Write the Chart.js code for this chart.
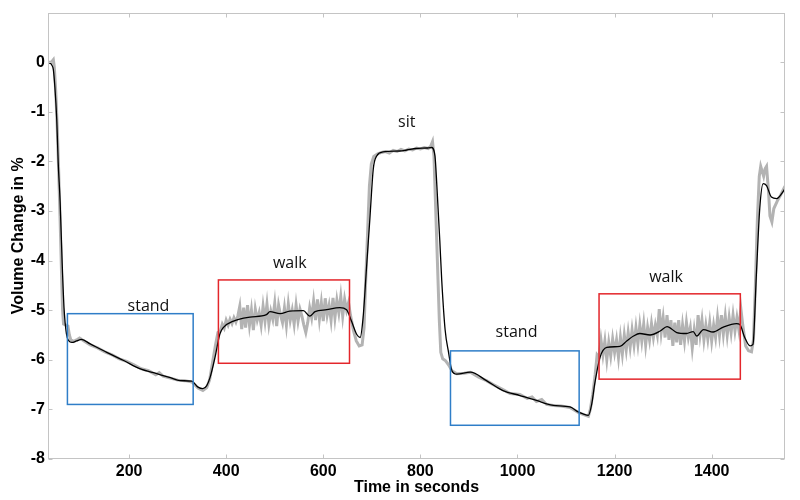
<!DOCTYPE html>
<html>
<head>
<meta charset="utf-8">
<script src="https://cdn.jsdelivr.net/npm/chart.js@4.4.1/dist/chart.umd.min.js"></script>
<style>
  html, body { margin: 0; padding: 0; background: #fff; }
  #wrap { width: 800px; height: 500px; }
</style>
</head>
<body>
<div id="wrap"><canvas id="chart" width="800" height="500"></canvas></div>
<script>
// smoothed volume curve (black)
const smoothTime = [
  34, 37, 41, 44, 47, 51, 54, 58, 62, 66,
  71, 76, 82, 92, 102, 120, 154, 190, 222, 257,
  285, 305, 329, 342, 352, 360, 367, 377, 387, 394,
  415, 449, 483, 490, 511, 531, 559, 572, 583, 607,
  634, 648, 658, 669, 676, 682, 689, 696, 703, 710,
  723, 758, 772, 792, 813, 823, 830, 834, 840, 844,
  851, 858, 865, 875, 903, 936, 970, 1005, 1039, 1060,
  1074, 1108, 1125, 1135, 1146, 1153, 1159, 1170, 1184, 1211,
  1225, 1239, 1252, 1273, 1294, 1308, 1328, 1348, 1362, 1369,
  1383, 1403, 1424, 1451, 1458, 1468, 1479, 1485, 1492, 1499,
  1506, 1513, 1523, 1534, 1547, 1551
]
const smoothVolume = [
  0, -0.02, -0.06, -0.15, -0.48, -1.15, -2.02, -2.82, -4.0, -4.95,
  -5.48, -5.62, -5.65, -5.62, -5.59, -5.68, -5.85, -6.02, -6.18, -6.28,
  -6.36, -6.42, -6.43, -6.55, -6.58, -6.52, -6.35, -5.95, -5.48, -5.35,
  -5.22, -5.14, -5.09, -5.03, -5.07, -5.02, -5.01, -5.12, -5.03, -4.99,
  -4.95, -4.99, -5.22, -5.49, -5.55, -5.15, -4.15, -3.15, -2.15, -1.89,
  -1.81, -1.79, -1.77, -1.74, -1.73, -1.72, -1.89, -2.5, -3.6, -4.4,
  -5.4, -5.85, -6.22, -6.29, -6.25, -6.42, -6.62, -6.72, -6.82, -6.89,
  -6.92, -6.95, -7.05, -7.09, -7.12, -6.89, -6.49, -5.95, -5.75, -5.73,
  -5.62, -5.52, -5.47, -5.5, -5.42, -5.33, -5.45, -5.47, -5.43, -5.52,
  -5.39, -5.44, -5.34, -5.27, -5.29, -5.55, -5.72, -5.69, -4.29, -2.95,
  -2.45, -2.49, -2.72, -2.75, -2.61, -2.55
]

// raw measurement (grey)
const rawTime = [
  34, 40, 44, 46, 49, 52, 55, 58, 61, 63,
  65, 70, 74, 77, 80, 86, 92, 98, 104, 112,
  120, 135, 150, 165, 180, 195, 210, 225, 240, 255,
  262, 270, 285, 300, 315, 330, 342, 352, 360, 366,
  372, 378, 383,
  // walk 1
  388, 392, 396, 400, 404, 408, 412, 416, 420, 424,
  428, 432, 436, 440, 444, 448, 452, 456, 460, 464,
  468, 472, 476, 480, 484, 488, 492, 496, 500, 504,
  508, 512, 516, 520, 524, 528, 532, 536, 540, 544,
  548, 552, 556, 560, 564, 568, 572, 576, 580, 584,
  588, 592, 596, 600, 604, 608, 612, 616, 620, 624,
  628, 632, 636, 640, 644, 648, 652,
  // sit, stand 2
  656, 662, 668, 674, 680, 684, 687, 691, 695, 699,
  704, 712, 720, 728, 736, 744, 752, 760, 768, 776,
  784, 792, 800, 808, 816, 821, 825, 828, 831, 835,
  839, 842, 846, 852, 858, 865, 875, 890, 903, 920,
  936, 950, 970, 985, 1005, 1020, 1030, 1039, 1050, 1060,
  1074, 1090, 1108, 1125, 1135, 1146, 1150, 1155, 1160, 1164,
  // walk 2
  1168, 1172, 1176, 1180, 1184, 1188, 1192, 1196, 1200, 1204,
  1208, 1212, 1216, 1220, 1224, 1228, 1232, 1236, 1240, 1244,
  1248, 1252, 1256, 1260, 1264, 1268, 1272, 1276, 1280, 1284,
  1288, 1292, 1296, 1300, 1304, 1308, 1312, 1316, 1320, 1324,
  1328, 1332, 1336, 1340, 1344, 1348, 1352, 1356, 1360, 1364,
  1368, 1372, 1376, 1380, 1384, 1388, 1392, 1396, 1400, 1404,
  1408, 1412, 1416, 1420, 1424, 1428, 1432, 1436, 1440, 1444,
  1448, 1452, 1456, 1460, 1464,
  // end
  1470, 1476, 1482, 1486, 1490, 1494, 1498, 1501, 1504, 1507,
  1510, 1513, 1517, 1520, 1524, 1528, 1535, 1542, 1551
]
const rawVolume = [
  0.0, 0.0, 0.05, -0.1, -0.6, -1.3, -2.2, -3.2, -4.3, -5.0,
  -5.28, -5.3, -5.32, -5.5, -5.6, -5.63, -5.6, -5.56, -5.6, -5.65,
  -5.7, -5.76, -5.84, -5.9, -5.98, -6.03, -6.1, -6.18, -6.22, -6.3,
  -6.26, -6.33, -6.37, -6.41, -6.42, -6.45, -6.57, -6.62, -6.56, -6.4,
  -6.05, -5.7, -5.45,
  // walk 1
  -5.42, -5.28, -5.36, -5.2, -5.3, -5.18, -5.27, -5.15, -5.24, -5.12,
  -4.92, -5.38, -4.95, -5.35, -4.9, -5.3, -5.0, -5.4, -4.98, -5.2,
  -5.05, -5.3, -4.92, -5.22, -4.88, -5.28, -5.02, -5.18, -4.86, -5.32,
  -4.9, -5.1, -5.25, -4.95, -5.3, -4.88, -5.2, -5.0, -5.28, -4.9,
  -5.22, -4.98, -5.12, -5.3, -5.45, -5.25, -4.95, -5.15, -4.82, -5.2,
  -4.78, -5.18, -4.85, -5.22, -4.76, -5.1, -4.9, -5.2, -4.75, -5.15,
  -4.8, -5.05, -4.72, -5.12, -4.78, -5.0, -4.85,
  // sit, stand 2
  -5.1, -5.4, -5.62, -5.72, -5.7, -5.35, -4.5, -3.5, -2.5, -2.05,
  -1.9, -1.85, -1.82, -1.8, -1.83, -1.78, -1.8, -1.76, -1.79, -1.75,
  -1.77, -1.73, -1.75, -1.72, -1.74, -1.7, -1.6, -1.9, -2.8, -4.0,
  -5.2, -5.85, -5.98, -6.02, -6.1, -6.22, -6.28, -6.27, -6.25, -6.35,
  -6.42, -6.5, -6.6, -6.68, -6.7, -6.78, -6.75, -6.84, -6.8, -6.9,
  -6.92, -6.93, -6.96, -7.06, -7.1, -7.14, -7.0, -6.7, -6.3, -5.9,
  // walk 2
  -5.95, -5.6, -5.9, -5.62, -6.0, -5.65, -5.92, -5.58, -5.85, -5.6,
  -5.95, -5.55, -5.88, -5.5, -5.8, -5.45, -5.75, -5.4, -5.7, -5.35,
  -5.68, -5.3, -5.62, -5.28, -5.7, -5.35, -5.6, -5.27, -5.55, -5.3,
  -5.5, -4.98, -5.45, -5.15, -5.55, -5.1, -5.6, -5.2, -5.72, -5.25,
  -5.65, -5.2, -5.7, -5.3, -5.62, -5.25, -5.55, -5.35, -5.76, -5.4,
  -5.7, -5.1, -5.5, -5.2, -5.6, -5.3, -5.58, -5.25, -5.62, -5.3,
  -5.55, -5.15, -5.5, -5.1, -5.48, -5.12, -5.5, -5.15, -5.45, -5.1,
  -5.42, -5.15, -5.4, -4.96, -5.3,
  // end
  -5.72, -5.82, -5.84, -5.6, -4.5, -3.2, -2.3, -2.1, -2.2, -2.3,
  -2.15, -2.1, -2.6, -3.1, -3.22, -2.95, -2.8, -2.68, -2.5
]

// activity boxes (in data units)
const boxActivity = ['stand', 'walk', 'stand', 'walk']
const boxStart = [73, 384, 862, 1168]
const boxEnd = [332, 654, 1127, 1459]
const boxTop = [-5.07, -4.39, -5.82, -4.67]
const boxBottom = [-6.9, -6.07, -7.32, -6.39]

// text labels
const labelText = ['stand', 'walk', 'sit', 'stand', 'walk']
const labelTime = [240, 531, 772, 998, 1306]
const labelVolume = [-4.92, -4.05, -1.21, -5.45, -4.34]

const xTicks = [200, 400, 600, 800, 1000, 1200, 1400]
const yTicks = [-8, -7, -6, -5, -4, -3, -2, -1, 0]

const boxColors = { stand: '#2f7ec8', walk: '#e3262b' }
const axisFont = { family: '"Liberation Sans", Arial, sans-serif', size: 16, weight: 'bold' }

const overlay = {
  id: 'overlay',
  afterDatasetsDraw(chart) {
    const { ctx, chartArea: a, scales: { x, y } } = chart
    ctx.save()

    // boxes
    ctx.lineWidth = 1.5
    boxActivity.forEach((act, i) => {
      const x0 = x.getPixelForValue(boxStart[i])
      const x1 = x.getPixelForValue(boxEnd[i])
      const y0 = y.getPixelForValue(boxTop[i])
      const y1 = y.getPixelForValue(boxBottom[i])
      ctx.strokeStyle = boxColors[act]
      ctx.strokeRect(x0, y0, x1 - x0, y1 - y0)
    })

    // labels
    ctx.fillStyle = '#111'
    ctx.font = '16px "Open Sans", sans-serif'
    ctx.textAlign = 'center'
    ctx.textBaseline = 'middle'
    labelText.forEach((t, i) => {
      ctx.fillText(t, x.getPixelForValue(labelTime[i]), y.getPixelForValue(labelVolume[i]))
    })

    // frame + inward ticks
    ctx.strokeStyle = '#c4c4c4'
    ctx.lineWidth = 1
    const L = Math.round(a.left) + 0.5, R = Math.round(a.right) - 0.5
    const T = Math.round(a.top) + 0.5, B = Math.round(a.bottom) - 0.5
    ctx.strokeRect(L, T, R - L, B - T)
    ctx.beginPath()
    xTicks.forEach(v => {
      const px = Math.round(x.getPixelForValue(v)) + 0.5
      ctx.moveTo(px, B); ctx.lineTo(px, B - 4)
      ctx.moveTo(px, T); ctx.lineTo(px, T + 4)
    })
    yTicks.forEach(v => {
      const py = Math.round(y.getPixelForValue(v)) + 0.5
      ctx.moveTo(L, py); ctx.lineTo(L + 4, py)
      ctx.moveTo(R, py); ctx.lineTo(R - 4, py)
    })
    ctx.stroke()
    ctx.restore()
  }
}

new Chart(document.getElementById('chart'), {
  type: 'line',
  data: {
    datasets: [
      {
        label: 'smoothed',
        data: smoothTime.map((t, i) => ({ x: t, y: smoothVolume[i] })),
        borderColor: '#000',
        borderWidth: 1.3,
        pointRadius: 0,
        cubicInterpolationMode: 'monotone',
        order: 0
      },
      {
        label: 'raw',
        data: rawTime.map((t, i) => ({ x: t, y: rawVolume[i] })),
        borderColor: '#b3b3b3',
        borderWidth: 3,
        pointRadius: 0,
        tension: 0,
        order: 1
      }
    ]
  },
  options: {
    responsive: false,
    animation: false,
    devicePixelRatio: 1,
    layout: { padding: { top: 9, right: 15, left: 0, bottom: 0 } },
    plugins: { legend: { display: false }, tooltip: { enabled: false } },
    scales: {
      x: {
        type: 'linear',
        min: 33,
        max: 1551,
        afterBuildTicks: s => { s.ticks = xTicks.map(v => ({ value: v })) },
        afterFit: s => { s.height = 41 },
        grid: { display: false, drawTicks: false },
        border: { display: false },
        ticks: { color: '#000', font: axisFont, padding: 3, maxRotation: 0, callback: v => String(v) },
        title: { display: true, text: 'Time in seconds', color: '#000', font: axisFont, padding: { top: 0, bottom: 3 } }
      },
      y: {
        min: -8,
        max: 1,
        afterBuildTicks: s => { s.ticks = yTicks.map(v => ({ value: v })) },
        afterFit: s => { s.width = 48 },
        grid: { display: false, drawTicks: false },
        border: { display: false },
        ticks: { color: '#000', font: axisFont, padding: 3, callback: v => String(v) },
        title: { display: true, text: 'Volume Change in %', color: '#000', font: axisFont, padding: { top: 9, bottom: 0 } }
      }
    }
  },
  plugins: [overlay]
})
</script>
</body>
</html>
